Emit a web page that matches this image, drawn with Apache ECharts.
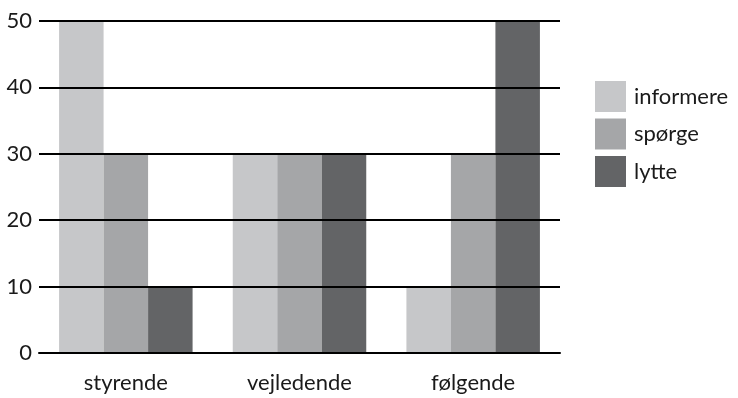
<!DOCTYPE html>
<html>
<head>
<meta charset="utf-8">
<script src="https://cdn.jsdelivr.net/npm/echarts@6/dist/echarts.min.js"></script>
<style>
  html, body { margin: 0; padding: 0; background: #fff; }
  #chart { width: 738px; height: 398px; }
</style>
</head>
<body>
<div id="chart"></div>
<script>
// Categories and series values
const categories = ['styrende', 'vejledende', 'følgende'];
const informere = [50, 30, 10];
const spoerge = [30, 30, 30];
const lytte = [10, 30, 50];
const yTicks = [0, 10, 20, 30, 40, 50];

const seriesNames = ['informere', 'spørge', 'lytte'];
const seriesData = [informere, spoerge, lytte];
const colors = ['#c6c7c9', '#a5a6a8', '#636466'];

const font = 'Lato, "Open Sans", sans-serif';

const chart = echarts.init(document.getElementById('chart'), null, { renderer: 'canvas' });

chart.setOption({
  animation: false,
  backgroundColor: '#fff',
  color: colors,
  grid: { left: 39, right: 178, top: 21, bottom: 45 },
  legend: {
    orient: 'vertical',
    left: 595,
    top: 81,
    padding: 0,
    itemWidth: 31,
    itemHeight: 31,
    itemGap: 6.5,
    icon: 'rect',
    textStyle: { fontFamily: font, fontSize: 22, color: '#1a1a1a', padding: [0, 0, 0, 3] },
    data: seriesNames
  },
  xAxis: {
    type: 'category',
    data: categories,
    axisLine: { show: true, lineStyle: { color: '#000', width: 2 } },
    axisTick: { show: false },
    axisLabel: { fontFamily: font, fontSize: 22, color: '#1a1a1a', margin: 19 },
    z: 5
  },
  yAxis: {
    type: 'value',
    min: yTicks[0],
    max: yTicks[yTicks.length - 1],
    interval: 10,
    axisLine: { show: false },
    axisTick: { show: false },
    axisLabel: { fontFamily: font, fontSize: 22, color: '#1a1a1a', margin: 7 },
    splitLine: { show: true, lineStyle: { color: '#000', width: 2 } },
    z: 5
  },
  series: seriesNames.map((name, i) => ({
    name: name,
    type: 'bar',
    data: seriesData[i],
    barWidth: 44.5,
    barGap: '0%',
    itemStyle: { color: colors[i] },
    z: 2
  }))
});
</script>
</body>
</html>
